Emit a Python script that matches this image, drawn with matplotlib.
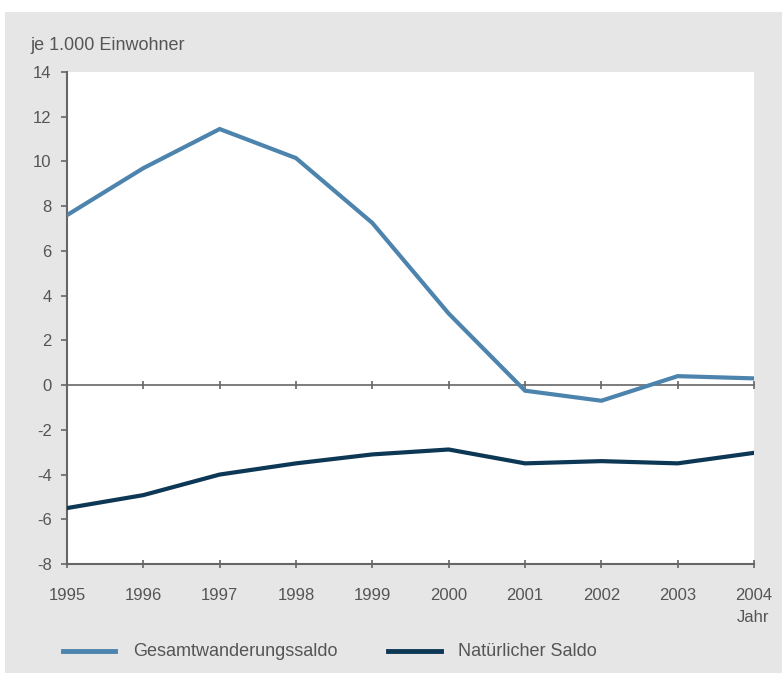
import matplotlib.pyplot as plt
from matplotlib.patches import Rectangle
from matplotlib.lines import Line2D

years = [1995, 1996, 1997, 1998, 1999, 2000, 2001, 2002, 2003, 2004]
gesamtwanderung = [7.6, 9.7, 11.45, 10.15, 7.25, 3.2, -0.25, -0.7, 0.4, 0.3]
natuerlich = [-5.5, -4.92, -4.0, -3.5, -3.1, -2.88, -3.5, -3.4, -3.5, -3.03]
y_ticks = [14, 12, 10, 8, 6, 4, 2, 0, -2, -4, -6, -8]

light = "#4d84ae"
dark = "#0c3755"
grey_text = "#555555"
axis_col = "#666666"

plt.rcParams['font.family'] = ['Liberation Sans', 'DejaVu Sans']

W, H = 782, 675
fig = plt.figure(figsize=(W / 100, H / 100), dpi=100)
fig.patch.set_facecolor("white")

# grey panel behind everything
fig.patches.append(Rectangle((5 / W, 2 / H), 1 - 5 / W, (H - 14) / H,
                             transform=fig.transFigure, facecolor="#e6e6e6",
                             edgecolor="none", zorder=-10))

ax = fig.add_axes([67 / W, (H - 564) / H, (754 - 67) / W, (564 - 72) / H])
ax.set_facecolor("white")

ax.plot(years, gesamtwanderung, color=light, lw=3.0, solid_joinstyle="miter",
        label="Gesamtwanderungssaldo", zorder=3)
ax.plot(years, natuerlich, color=dark, lw=3.0, solid_joinstyle="miter",
        label="Natürlicher Saldo", zorder=3)

ax.set_xlim(1995, 2004)
ax.set_ylim(-8, 14)
ax.set_yticks(y_ticks)
ax.set_yticklabels([str(v) for v in y_ticks])
ax.set_xticks(years)
ax.set_xticklabels([str(y) for y in years])

# zero line with ticks (use the top spine)
ax.spines['top'].set_position(('data', 0))
ax.spines['top'].set_color(axis_col)
ax.spines['top'].set_linewidth(1.2)
ax.spines['top'].set_zorder(2)
ax.spines['right'].set_visible(False)
for s in ('left', 'bottom'):
    ax.spines[s].set_color(axis_col)
    ax.spines[s].set_linewidth(1.5)

ax.tick_params(axis='x', which='both', top=True, labeltop=False,
               direction='inout', length=6, width=1.2, color=axis_col,
               labelsize=12, labelcolor=grey_text, pad=14)
ax.tick_params(axis='y', direction='out', length=4, width=1.2, color=axis_col,
               labelsize=12, labelcolor=grey_text, pad=7)

fig.text(30 / W, 1 - 46 / H, "je 1.000 Einwohner", fontsize=13,
         color=grey_text, va="center", ha="left")
fig.text(753 / W, 1 - 618 / H, "Jahr", fontsize=12, color=grey_text,
         va="center", ha="center")

# legend at bottom
leg_y = 1 - 651 / H
fig.lines.append(Line2D([63 / W, 115 / W], [leg_y, leg_y], transform=fig.transFigure,
                        color=light, lw=3.5))
fig.text(133 / W, leg_y, "Gesamtwanderungssaldo", fontsize=13, color=grey_text,
         va="center", ha="left")
fig.lines.append(Line2D([388 / W, 441 / W], [leg_y, leg_y], transform=fig.transFigure,
                        color=dark, lw=3.5))
fig.text(458 / W, leg_y, "Natürlicher Saldo", fontsize=13, color=grey_text,
         va="center", ha="left")

fig.savefig("out.png", dpi=100)
